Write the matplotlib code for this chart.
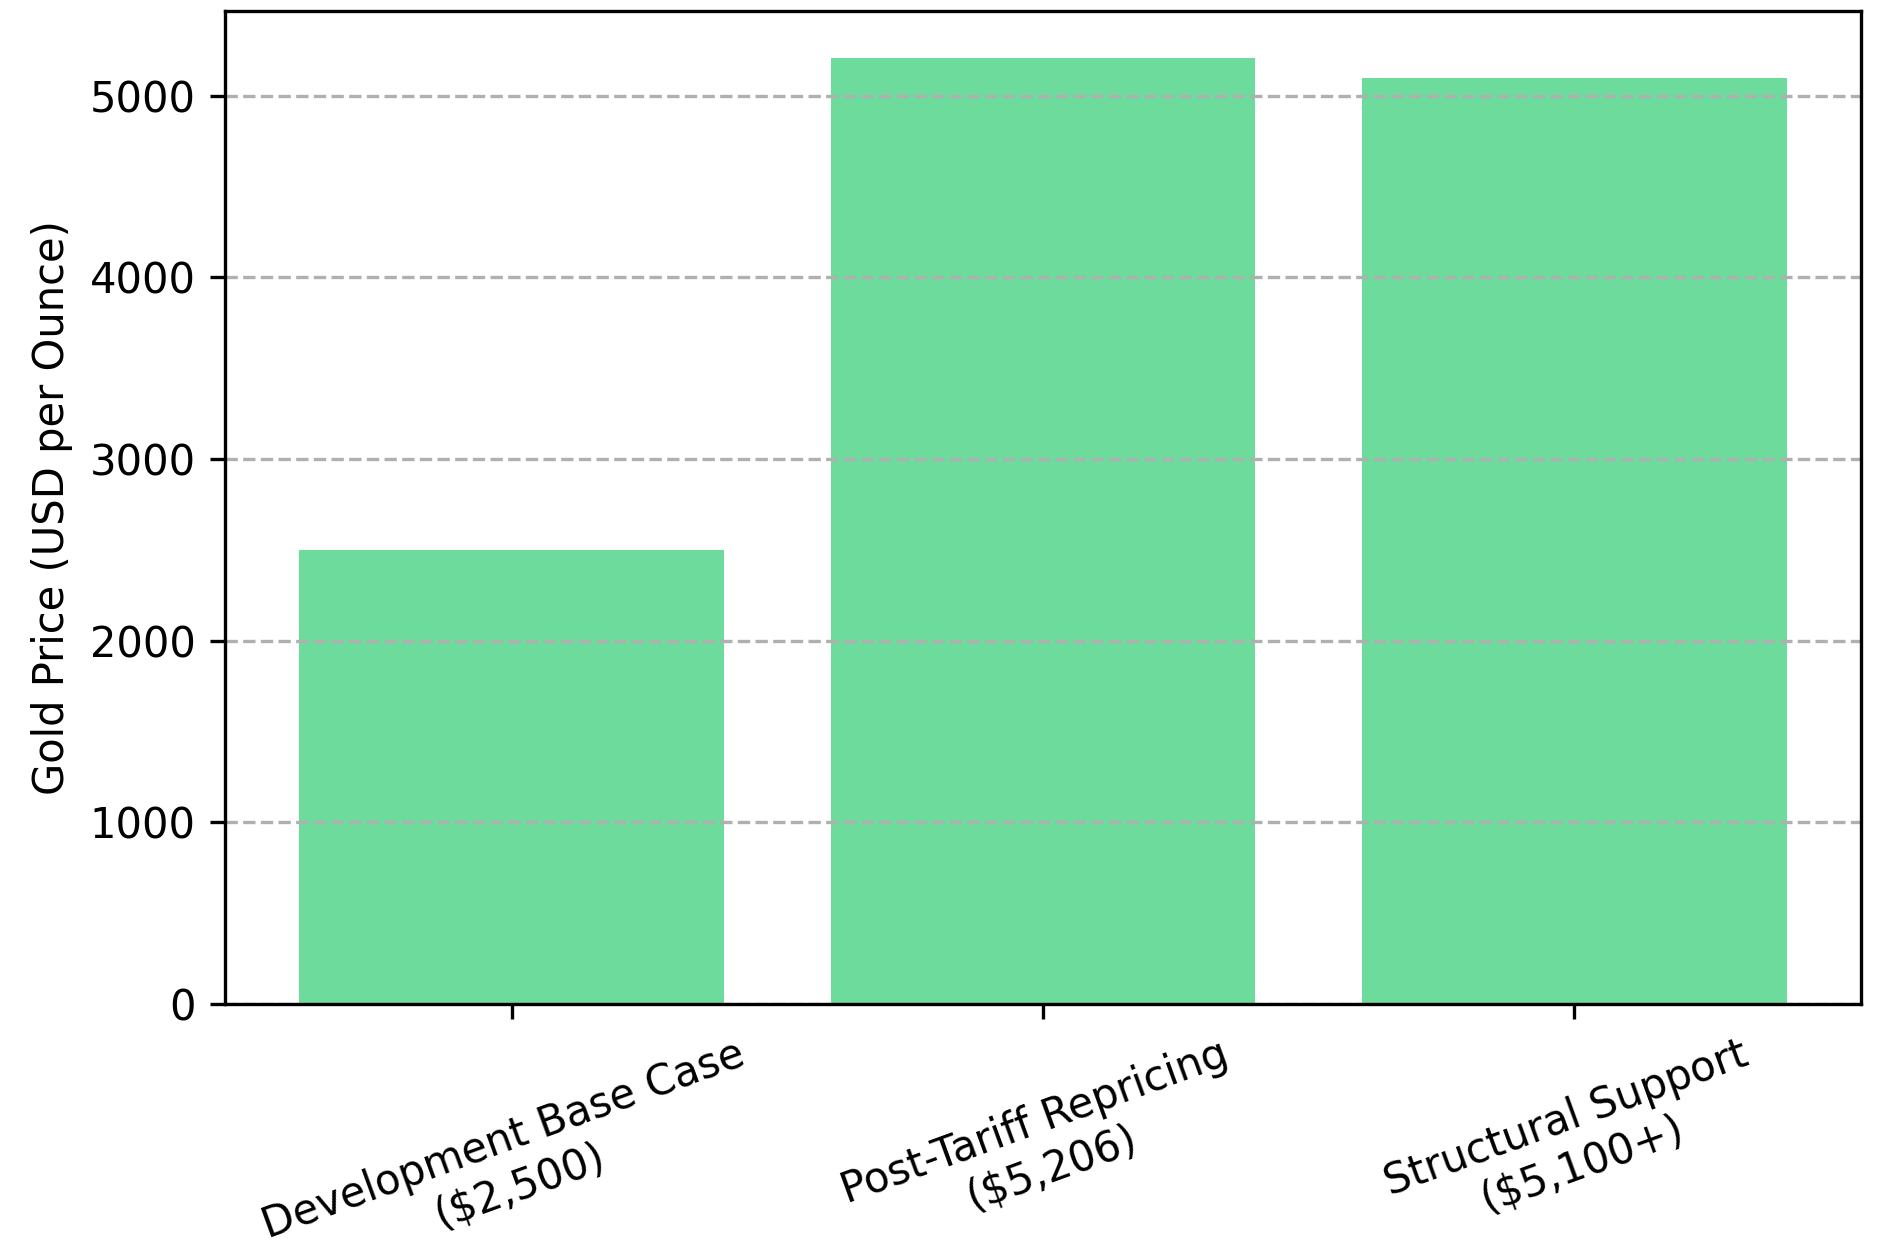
import matplotlib
matplotlib.use("Agg")
import matplotlib.pyplot as plt

# scenario labels and gold price per scenario (USD/oz)
scenarios = ['Development Base Case\n($2,500)',
             'Post-Tariff Repricing\n($5,206)',
             'Structural Support\n($5,100+)']
prices = [2500, 5206, 5100]

fig = plt.figure(figsize=(6.33, 4.1767), dpi=300)
ax = fig.add_axes([0.1185, 0.1987, 0.8615, 0.7925])

ax.bar(scenarios, prices, color='#2ecc71', alpha=0.7)
ax.set_ylabel('Gold Price (USD per Ounce)')
ax.grid(axis='y', linestyle='--', color='#b0b0b0')
plt.setp(ax.get_xticklabels(), rotation=20, ha='center')

fig.savefig('out.png', dpi=300)
